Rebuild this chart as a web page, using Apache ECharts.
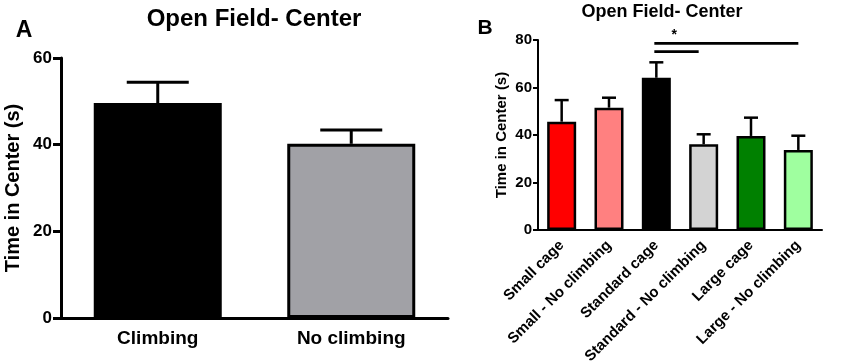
<!DOCTYPE html>
<html>
<head>
<meta charset="utf-8">
<script src="https://cdn.jsdelivr.net/npm/echarts@6/dist/echarts.min.js"></script>
<style>
  html, body { margin: 0; padding: 0; background: #fff; }
  #chart { width: 850px; height: 363px; }
</style>
</head>
<body>
<div id="chart"></div>
<script>
// panel A
const catsA = ['Climbing', 'No climbing']
const meanA = [49.6, 40.2]
const semA = [4.8, 3.2]
const colorsA = ['#000000', '#a1a1a6']

// panel B
const catsB = ['Small cage', 'Small - No climbing', 'Standard cage', 'Standard - No climbing', 'Large cage', 'Large - No climbing']
const meanB = [45.6, 51.5, 64.1, 36.1, 39.6, 33.7]
const semB = [9.1, 4.2, 6.5, 4.2, 7.7, 6.0]
const colorsB = ['#ff0000', '#ff8080', '#000000', '#d3d3d3', '#008000', '#9fff9f']

// significance: [from index, to index, height]
const sigB = [[2, 5, 78.6], [2, 3, 75.1]]

const ticksA = { min: 0, max: 60, interval: 20 }
const ticksB = { min: 0, max: 80, interval: 20 }

const font = 'Liberation Sans, Arial, sans-serif'

function errorBars (capHalf, lw) {
  return function (params, api) {
    const i = api.value(0)
    const base = api.coord([i, api.value(1)])
    const top = api.coord([i, api.value(2)])
    return {
      type: 'group',
      children: [
        { type: 'line', shape: { x1: base[0], y1: base[1], x2: top[0], y2: top[1] }, style: { stroke: '#000', lineWidth: lw } },
        { type: 'line', shape: { x1: top[0] - capHalf, y1: top[1], x2: top[0] + capHalf, y2: top[1] }, style: { stroke: '#000', lineWidth: lw } }
      ]
    }
  }
}

function sigLines (params, api) {
  const a = api.coord([api.value(0), api.value(2)])
  const b = api.coord([api.value(1), api.value(2)])
  const children = [
    { type: 'line', shape: { x1: a[0] - 2, y1: a[1], x2: b[0] - (params.dataIndex === 1 ? 5 : 0), y2: b[1] }, style: { stroke: '#000', lineWidth: 2.7 } }
  ]
  if (params.dataIndex === 0) {
    children.push({
      type: 'text',
      style: { x: a[0] + 18, y: a[1] - 8, text: '*', fill: '#000', font: 'bold 14px ' + font, textAlign: 'center', textVerticalAlign: 'middle' }
    })
  }
  return { type: 'group', children: children }
}

function axisX (grid, cats, opts) {
  return {
    type: 'category',
    gridIndex: grid,
    data: cats,
    boundaryGap: true,
    axisLine: { lineStyle: { color: '#000', width: opts.lw } },
    axisTick: { alignWithLabel: true, length: opts.tick, lineStyle: { color: '#000', width: opts.lw } },
    axisLabel: { interval: 0, rotate: opts.rotate || 0, margin: opts.margin, color: '#000', fontWeight: 'bold', fontSize: opts.fs, fontFamily: font },
    splitLine: { show: false }
  }
}

function axisY (grid, t, opts) {
  return {
    type: 'value',
    gridIndex: grid,
    min: t.min,
    max: t.max,
    interval: t.interval,
    name: 'Time in Center (s)',
    nameLocation: 'middle',
    nameGap: opts.nameGap,
    nameTextStyle: { color: '#000', fontWeight: 'bold', fontSize: opts.nameFs, fontFamily: font },
    axisLine: { show: true, lineStyle: { color: '#000', width: opts.lw } },
    axisTick: { show: true, length: opts.tick, lineStyle: { color: '#000', width: opts.lw } },
    axisLabel: { margin: opts.margin, color: '#000', fontWeight: 'bold', fontSize: opts.fs, fontFamily: font },
    splitLine: { show: false }
  }
}

const chart = echarts.init(document.getElementById('chart'), null, { renderer: 'canvas' })

chart.setOption({
  backgroundColor: '#fff',
  animation: false,
  grid: [
    { left: 61, width: 387, top: 58, bottom: 45, outerBoundsMode: 'none' },
    { left: 538, right: 28, top: 40, bottom: 133, outerBoundsMode: 'none' }
  ],
  xAxis: [
    axisX(0, catsA, { lw: 3, tick: 7, margin: 11, fs: 19 }),
    axisX(1, catsB, { lw: 2, tick: 5, margin: 13, fs: 15, rotate: 45 })
  ],
  yAxis: [
    axisY(0, ticksA, { lw: 3, tick: 8, margin: 9, fs: 17, nameFs: 20, nameGap: 38 }),
    axisY(1, ticksB, { lw: 2, tick: 5, margin: 6, fs: 15, nameFs: 15, nameGap: 29 })
  ],
  graphic: [
    { type: 'text', style: { x: 254, y: 19, text: 'Open Field- Center', font: 'bold 24px ' + font, fill: '#000', textAlign: 'center', textVerticalAlign: 'middle' } },
    { type: 'text', style: { x: 24, y: 31, text: 'A', font: 'bold 23px ' + font, fill: '#000', textAlign: 'center', textVerticalAlign: 'middle' } },
    { type: 'text', style: { x: 662, y: 12, text: 'Open Field- Center', font: 'bold 18px ' + font, fill: '#000', textAlign: 'center', textVerticalAlign: 'middle' } },
    { type: 'text', style: { x: 485, y: 28, text: 'B', font: 'bold 21px ' + font, fill: '#000', textAlign: 'center', textVerticalAlign: 'middle' } }
  ],
  series: [
    {
      type: 'bar',
      xAxisIndex: 0,
      yAxisIndex: 0,
      barWidth: 128,
      data: meanA.map((v, i) => ({ value: v, itemStyle: { color: colorsA[i] } })),
      itemStyle: { borderColor: '#000', borderWidth: 3 }
    },
    {
      type: 'custom',
      xAxisIndex: 0,
      yAxisIndex: 0,
      z: 3,
      renderItem: errorBars(31, 3),
      data: meanA.map((v, i) => [i, v, v + semA[i]])
    },
    {
      type: 'bar',
      xAxisIndex: 1,
      yAxisIndex: 1,
      barWidth: 29,
      data: meanB.map((v, i) => ({ value: v, itemStyle: { color: colorsB[i] } })),
      itemStyle: { borderColor: '#000', borderWidth: 2.5 }
    },
    {
      type: 'custom',
      xAxisIndex: 1,
      yAxisIndex: 1,
      z: 3,
      renderItem: errorBars(7, 2.5),
      data: meanB.map((v, i) => [i, v, v + semB[i]])
    },
    {
      type: 'custom',
      xAxisIndex: 1,
      yAxisIndex: 1,
      z: 3,
      clip: false,
      renderItem: sigLines,
      data: sigB
    }
  ]
})
</script>
</body>
</html>
